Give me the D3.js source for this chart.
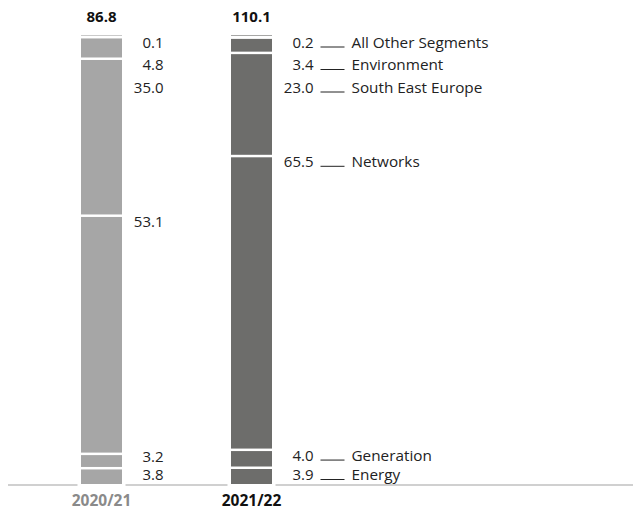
<!DOCTYPE html>
<html>
<head>
<meta charset="utf-8">
<script src="https://cdn.jsdelivr.net/npm/d3@7"></script>
<style>
  body { margin: 0; background: #fff; }
  text { font-family: "Open Sans", "Noto Sans", sans-serif; }
</style>
</head>
<body>
<svg id="chart" width="633" height="511"></svg>
<script>
// data, bottom to top
const years = ["2020/21", "2021/22"]
const totals = [86.8, 110.1]
const segments = ["Energy", "Generation", "Networks", "South East Europe", "Environment", "All Other Segments"]
const values2021 = [3.8, 3.2, 53.1, 35.0, 4.8, 0.1]
const values2022 = [3.9, 4.0, 65.5, 23.0, 3.4, 0.2]
const barColours = ["#a6a6a6", "#6d6d6b"]
const yearColours = ["#8a8a8a", "#111"]

const svg = d3.select("#chart")
const barW = 41
const gap = 2.5

const x = d3.scalePoint().domain(years).range([101.5, 251.5])
const y = d3.scaleLinear().domain([0, 100]).range([484, 35.5])

// baseline
svg.append("line")
    .attr("x1", 8).attr("x2", 633)
    .attr("y1", 485).attr("y2", 485)
    .attr("stroke", "#d0d0d0")
    .attr("stroke-width", 1.8)

const allValues = [values2021, values2022]

allValues.forEach((vals, bi) => {
    const cx = x(years[bi])
    const x0 = cx - barW / 2

    // white knock-out behind the bar
    svg.append("rect")
        .attr("x", x0 - 3.5).attr("y", 30)
        .attr("width", barW + 7).attr("height", 459)
        .attr("fill", "#fff")

    // stack
    let cum = 0
    const stack = vals.map(v => {
        const s = {v: v, lo: cum, hi: cum + v}
        cum += v
        return s
    })

    const g = svg.append("g")
    stack.forEach((s, i) => {
        const top = y(s.hi), bot = y(s.lo)
        let ry = top + gap, rh = bot - top - gap
        if (rh < 1) { ry = top - 0.5; rh = Math.max(1, bot - top) }
        g.append("rect")
            .attr("x", x0).attr("y", ry)
            .attr("width", barW).attr("height", rh)
            .attr("fill", barColours[bi])
            .attr("opacity", (bot - top) < 1 ? 0.6 : 1)
    })

    // label positions: near segment top, pushed apart
    const pos = stack.map(s => y(s.hi) + 7)
    for (let i = pos.length - 2; i >= 0; i--) {
        pos[i] = Math.max(pos[i], pos[i + 1] + 22.5)
    }
    pos[0] = Math.min(pos[0], 475)
    for (let i = 1; i < pos.length; i++) {
        pos[i] = Math.min(pos[i], pos[i - 1] - 18.5)
    }

    const labelRight = x0 + barW + 41.5
    stack.forEach((s, i) => {
        svg.append("text")
            .attr("x", labelRight).attr("y", pos[i])
            .attr("dy", "0.35em")
            .attr("text-anchor", "end")
            .attr("font-size", 15)
            .attr("fill", "#222")
            .text(d3.format(".1f")(s.v))

        if (bi === allValues.length - 1) {
            svg.append("line")
                .attr("x1", labelRight + 7).attr("x2", labelRight + 31)
                .attr("y1", pos[i] + 4.5).attr("y2", pos[i] + 4.5)
                .attr("stroke", "#222").attr("stroke-width", 1)
            svg.append("text")
                .attr("x", labelRight + 38).attr("y", pos[i])
                .attr("dy", "0.35em")
                .attr("font-size", 15.3)
                .attr("fill", "#222")
                .text(segments[i])
        }
    })

    // total on top
    svg.append("text")
        .attr("x", cx).attr("y", 17)
        .attr("dy", "0.35em")
        .attr("text-anchor", "middle")
        .attr("font-size", 15)
        .attr("font-weight", "bold")
        .attr("fill", "#111")
        .text(d3.format(".1f")(totals[bi]))

    // year label
    svg.append("text")
        .attr("x", cx).attr("y", 501)
        .attr("dy", "0.35em")
        .attr("text-anchor", "middle")
        .attr("font-size", 15.5)
        .attr("font-weight", "bold")
        .attr("fill", yearColours[bi])
        .text(years[bi])
})
</script>
</body>
</html>
